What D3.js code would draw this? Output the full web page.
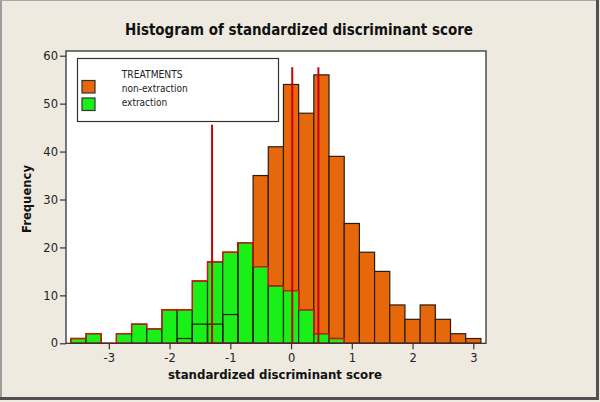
<!DOCTYPE html>
<html>
<head>
<meta charset="utf-8">
<script src="https://cdn.jsdelivr.net/npm/d3@7"></script>
<style>
  html, body { margin: 0; padding: 0; background: #EEEAE0; }
  svg { display: block; }
</style>
</head>
<body>
<svg id="chart" width="600" height="402"></svg>
<script>
// ---- data ----
const binCenters = [-3.5, -3.25, -3.0, -2.75, -2.5, -2.25, -2.0, -1.75, -1.5, -1.25, -1.0, -0.75, -0.5, -0.25, 0.0, 0.25, 0.5, 0.75, 1.0, 1.25, 1.5, 1.75, 2.0, 2.25, 2.5, 2.75, 3.0];
const nonExtraction = [0, 0, 0, 0, 0, 0, 0, 1, 4, 4, 6, 21, 35, 41, 54, 48, 56, 39, 25, 19, 15, 8, 5, 8, 5, 2, 1];
const extraction    = [1, 2, 0, 2, 4, 3, 7, 7, 13, 17, 19, 21, 16, 12, 11, 7, 2, 1, 0, 0, 0, 0, 0, 0, 0, 0, 0];
const binWidth = 0.25;
const xTicks = [-3, -2, -1, 0, 1, 2, 3];
const yTicks = [0, 10, 20, 30, 40, 50, 60];
const refLineX = [-1.30, 0.02, 0.45];
const refLineTop = [45.6, 57.6, 57.6];
const seriesNames = ["non-extraction", "extraction"];
const seriesColors = ["#E6680A", "#18F018"];
const legendTitle = "TREATMENTS";

// ---- layout ----
const svg = d3.select("#chart");
const frame = {left: 66, right: 486, top: 51, bottom: 343.3};
const x = d3.scaleLinear().domain([-3, 3]).range([108.8, 473.3]);
const y = d3.scaleLinear().domain([0, 60]).range([343.3, 55.7]);
const FONT = "'DejaVu Sans', Verdana, sans-serif";

// background + 3D border
svg.append("rect").attr("x", 0).attr("y", 0).attr("width", 600).attr("height", 402).attr("fill", "#EEEAE0");
svg.append("line").attr("x1", 1).attr("y1", 0).attr("x2", 1).attr("y2", 399).attr("stroke", "#9C9C9C").attr("stroke-width", 2);
svg.append("line").attr("x1", 0).attr("y1", 0.5).attr("x2", 598).attr("y2", 0.5).attr("stroke", "#A8A8A8").attr("stroke-width", 1);
svg.append("line").attr("x1", 597.5).attr("y1", 0).attr("x2", 597.5).attr("y2", 400).attr("stroke", "#505050").attr("stroke-width", 3);
svg.append("line").attr("x1", 0).attr("y1", 398.5).attr("x2", 599).attr("y2", 398.5).attr("stroke", "#505050").attr("stroke-width", 3);

// plot area
svg.append("rect").attr("x", frame.left).attr("y", frame.top)
  .attr("width", frame.right - frame.left).attr("height", frame.bottom - frame.top)
  .attr("fill", "#FFFFFF");

const data = binCenters.map((c, i) => ({c, a: nonExtraction[i], b: extraction[i]}));
const x0 = d => x(d.c - binWidth / 2);
const wd = d => x(d.c + binWidth / 2) - x(d.c - binWidth / 2);

// orange bars
svg.append("g").selectAll("rect").data(data.filter(d => d.a > 0)).join("rect")
  .attr("x", x0).attr("width", wd)
  .attr("y", d => y(d.a)).attr("height", d => y(0) - y(d.a))
  .attr("fill", seriesColors[0]).attr("stroke", "#2A1C12").attr("stroke-width", 1.2);

// green bars
svg.append("g").selectAll("rect").data(data.filter(d => d.b > 0)).join("rect")
  .attr("x", x0).attr("width", wd)
  .attr("y", d => y(d.b)).attr("height", d => y(0) - y(d.b))
  .attr("fill", seriesColors[1]).attr("stroke", "#1A2A14").attr("stroke-width", 1.2);

// orange outlines seen through
svg.append("g").selectAll("rect").data(data.filter(d => d.a > 0 && d.a < d.b + 0.01)).join("rect")
  .attr("x", x0).attr("width", wd)
  .attr("y", d => y(d.a)).attr("height", d => y(0) - y(d.a))
  .attr("fill", "none").attr("stroke", "#2A1C12").attr("stroke-width", 1.2);

// red envelope of green
const env = [[binCenters[0] - binWidth / 2, 0]];
data.forEach(d => { env.push([d.c - binWidth / 2, d.b]); env.push([d.c + binWidth / 2, d.b]); });
const lastG = data.reduce((m, d, i) => d.b > 0 ? i : m, 0);
const envCut = env.slice(0, 1 + 2 * (lastG + 1));
envCut.push([binCenters[lastG] + binWidth / 2, 0]);
svg.append("path")
  .attr("d", d3.line().x(p => x(p[0])).y(p => y(p[1]))(envCut))
  .attr("fill", "none").attr("stroke", "#E01010").attr("stroke-width", 1.3);

// red baseline
svg.append("line")
  .attr("x1", x(binCenters[0] - binWidth / 2)).attr("x2", x(binCenters[binCenters.length - 1] + binWidth / 2))
  .attr("y1", y(0)).attr("y2", y(0)).attr("stroke", "#E01010").attr("stroke-width", 1.5);

// reference lines
svg.append("g").selectAll("line").data(refLineX).join("line")
  .attr("x1", d => x(d)).attr("x2", d => x(d))
  .attr("y1", y(0)).attr("y2", (d, i) => y(refLineTop[i]))
  .attr("stroke", "#CC0000").attr("stroke-width", 2);

// frame
svg.append("rect").attr("x", frame.left).attr("y", frame.top)
  .attr("width", frame.right - frame.left).attr("height", frame.bottom - frame.top)
  .attr("fill", "none").attr("stroke", "#333333").attr("stroke-width", 1.3);

// axes
const yAxis = svg.append("g").attr("transform", `translate(${frame.left},0)`)
  .call(d3.axisLeft(y).tickValues(yTicks).tickSize(6).tickPadding(2).tickFormat(d3.format("d")));
yAxis.select(".domain").remove();
yAxis.selectAll("line").attr("stroke", "#333").attr("stroke-width", 1.2);
yAxis.selectAll("text").attr("font-family", FONT).attr("font-size", 11.5).attr("fill", "#222");

const xAxis = svg.append("g").attr("transform", `translate(0,${frame.bottom})`)
  .call(d3.axisBottom(x).tickValues(xTicks).tickSize(6).tickPadding(5).tickFormat(d3.format("d")));
xAxis.select(".domain").remove();
xAxis.selectAll("line").attr("stroke", "#333").attr("stroke-width", 1.2);
xAxis.selectAll("text").attr("font-family", FONT).attr("font-size", 11.5).attr("fill", "#222")
  .text(d => d < 0 ? "-" + Math.abs(d) : String(d));

// titles
svg.append("text").attr("x", 299).attr("y", 35).attr("text-anchor", "middle")
  .attr("font-family", FONT).attr("font-weight", "bold").attr("font-size", 15.5).attr("fill", "#111")
  .attr("textLength", 348).attr("lengthAdjust", "spacingAndGlyphs")
  .text("Histogram of standardized discriminant score");
svg.append("text").attr("x", 275).attr("y", 379).attr("text-anchor", "middle")
  .attr("font-family", FONT).attr("font-weight", "bold").attr("font-size", 12.5).attr("fill", "#111")
  .attr("textLength", 214).attr("lengthAdjust", "spacingAndGlyphs")
  .text("standardized discriminant score");
svg.append("text").attr("transform", "translate(31,199) rotate(-90)").attr("text-anchor", "middle")
  .attr("font-family", FONT).attr("font-weight", "bold").attr("font-size", 12.5).attr("fill", "#111")
  .attr("textLength", 68).attr("lengthAdjust", "spacingAndGlyphs")
  .text("Frequency");

// legend
const lg = svg.append("g");
lg.append("rect").attr("x", 77.5).attr("y", 58.5).attr("width", 201).attr("height", 63)
  .attr("fill", "#FFFFFF").attr("stroke", "#333").attr("stroke-width", 1.2);
lg.append("text").attr("x", 121.7).attr("y", 77.5)
  .attr("font-family", FONT).attr("font-size", 10.5).attr("fill", "#222")
  .attr("textLength", 61).attr("lengthAdjust", "spacingAndGlyphs").text(legendTitle);
const legLens = [66, 45.6];
seriesNames.forEach((nm, i) => {
  lg.append("rect").attr("x", 82).attr("y", 80.5 + i * 17.5).attr("width", 13).attr("height", 12.5)
    .attr("fill", seriesColors[i]).attr("stroke", "#333").attr("stroke-width", 1.2);
  lg.append("text").attr("x", 121.7).attr("y", 91.5 + i * 14)
    .attr("font-family", FONT).attr("font-size", 10.5).attr("fill", "#222")
    .attr("textLength", legLens[i]).attr("lengthAdjust", "spacingAndGlyphs").text(nm);
});
</script>
</body>
</html>
